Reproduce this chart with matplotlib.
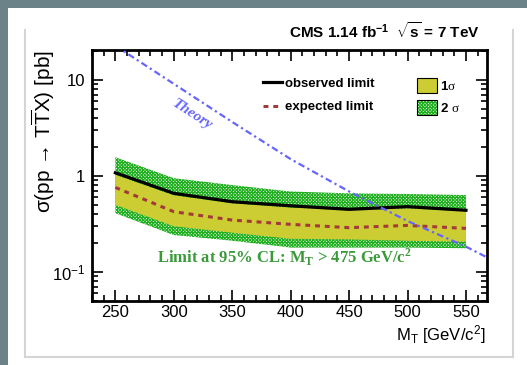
import matplotlib
matplotlib.use("Agg")
import matplotlib.pyplot as plt
from matplotlib.lines import Line2D
from matplotlib.patches import Patch, Rectangle
from matplotlib.ticker import FixedLocator, FuncFormatter, MultipleLocator

# Valeurs
mass = [250, 300, 350, 400, 450, 500, 550]
observed = [1.08, 0.66, 0.54, 0.49, 0.45, 0.48, 0.44]
expected = [0.76, 0.425, 0.348, 0.314, 0.29, 0.306, 0.285]
one_sigma_lo = [0.50, 0.30, 0.257, 0.222, 0.219, 0.212, 0.207]
one_sigma_hi = [1.03, 0.63, 0.52, 0.47, 0.44, 0.46, 0.43]
two_sigma_lo = [0.41, 0.243, 0.212, 0.18, 0.18, 0.18, 0.177]
two_sigma_hi = [1.57, 0.95, 0.805, 0.69, 0.66, 0.65, 0.634]

theory_mass = [250, 300, 350, 400, 450, 500, 550, 600]
theory = [22.7, 9.1, 3.65, 1.5, 0.69, 0.34, 0.184, 0.09]

green = "#22b022"
yellow = "#cccc33"
red = "#a33a3a"
blue = "#6666ff"

plt.rcParams["font.family"] = ["Liberation Sans", "DejaVu Sans"]
plt.rcParams["mathtext.fontset"] = "custom"
plt.rcParams["mathtext.rm"] = "Liberation Sans"
plt.rcParams["mathtext.it"] = "Liberation Sans:italic"
plt.rcParams["mathtext.bf"] = "Liberation Sans:bold"
plt.rcParams["mathtext.sf"] = "Liberation Serif:bold"
plt.rcParams["mathtext.tt"] = "Liberation Serif"
plt.rcParams["hatch.linewidth"] = 0.9

fig = plt.figure(figsize=(5.27, 3.65), dpi=100, facecolor="white")

# bandeau sombre en haut et a gauche + cadre gris clair
W, H = 527.0, 365.0
fig.patches.append(Rectangle((0, 1 - 8 / H), 1, 8 / H, transform=fig.transFigure,
                             facecolor="#6a8288", edgecolor="none", zorder=0))
fig.patches.append(Rectangle((0, 0), 8 / W, 1, transform=fig.transFigure,
                             facecolor="#6a8288", edgecolor="none", zorder=0))
for xs, ys in [([25, 25], [30, 357]), ([25, 513], [357, 357]), ([513, 513], [30, 357])]:
    fig.add_artist(Line2D([x / W for x in xs], [1 - y / H for y in ys],
                          transform=fig.transFigure, color="#d4d4d4", lw=1.5))

ax = fig.add_axes([92 / W, 1 - 301 / H, 395 / W, 251 / H])
ax.set_yscale("log")
ax.set_xlim(230, 568)
ax.set_ylim(0.05, 20.5)

ax.fill_between(mass, two_sigma_lo, two_sigma_hi, facecolor="white", edgecolor=green,
                hatch="xxxxxxxxxx", linewidth=0, zorder=1)
ax.fill_between(mass, one_sigma_lo, one_sigma_hi, facecolor=yellow, linewidth=0, zorder=2)
ax.plot(mass, expected, color=red, lw=2.2, ls=(0, (1.6, 1.6)), zorder=3)
ax.plot(mass, observed, color="black", lw=2.3, zorder=4)
ax.plot(theory_mass, theory, color=blue, lw=1.6, ls=(0, (3, 1.5, 1, 1.5)), zorder=5)

ax.text(0.253, 0.741, "Theory", transform=ax.transAxes, rotation=-33, rotation_mode="anchor",
        ha="center", va="center", color=blue, fontsize=11, fontweight="bold",
        fontstyle="italic", family="Liberation Serif")
ax.text(0.165, 0.151, r"Limit at 95% CL: M$_{\mathsf{T}}$ > 475 GeV/c$^{\mathsf{2}}$",
        transform=ax.transAxes, ha="left", va="baseline", color="#3a9a3a", fontsize=12,
        fontweight="bold", family="Liberation Serif")

# axes et graduations
for s in ax.spines.values():
    s.set_linewidth(2.0)
ax.xaxis.set_major_locator(MultipleLocator(50))
ax.xaxis.set_minor_locator(MultipleLocator(10))
ax.yaxis.set_major_locator(FixedLocator([0.1, 1, 10]))
ax.yaxis.set_minor_locator(FixedLocator([k * 10.0 ** e for e in (-2, -1, 0, 1) for k in range(2, 10)]))
ax.yaxis.set_major_formatter(FuncFormatter(lambda v, p: {0.1: r"10$^{\mathregular{-1}}$", 1: "1", 10: "10"}.get(round(v, 3), "")))
ax.yaxis.set_minor_formatter(FuncFormatter(lambda v, p: ""))
ax.tick_params(which="both", direction="in", top=True, right=True, labelsize=12, width=1.2)
ax.tick_params(which="major", length=8, pad=5)
ax.tick_params(axis="x", which="major", pad=3)
ax.tick_params(which="minor", length=4)

# legendes
h_lines = [Line2D([], [], color="black", lw=2.3), Line2D([], [], color=red, lw=2.2, ls=(0, (1.6, 1.6)))]
leg1 = ax.legend(h_lines, ["observed limit", "expected limit"], loc="upper left",
                 bbox_to_anchor=(0.433, 0.89), frameon=False, borderpad=0, borderaxespad=0,
                 handlelength=1.45, handletextpad=0.25, labelspacing=0.85,
                 prop={"family": "Liberation Sans", "weight": "bold", "size": 9.5})
ax.add_artist(leg1)
h_box = [Patch(facecolor=yellow, edgecolor="black", lw=0.8),
         (Patch(facecolor="white", edgecolor=green, hatch="xxxxxxxxxx", lw=0),
          Patch(facecolor="none", edgecolor="black", lw=0.8))]
ax.legend(h_box, [r"1$\mathtt{σ}$", r"2 $\mathtt{σ}$"], loc="upper left",
          bbox_to_anchor=(0.823, 0.89), frameon=False, borderpad=0, borderaxespad=0,
          handlelength=1.5, handleheight=1.4, handletextpad=0.25, labelspacing=0.55,
          prop={"family": "Liberation Sans", "weight": "bold", "size": 9.5})

# titres
fig.text(480 / W, 1 - 31 / H, r"CMS 1.14 fb$^{\mathbf{-1}}$  $\sqrt{\mathbf{s}}$ = 7 TeV",
         ha="right", va="center", fontsize=11, fontweight="bold")
fig.text(43 / W, 1 - 50 / H, r"σ(pp → T$\overline{\mathrm{T}}$X) [pb]",
         rotation=90, ha="center", va="top", fontsize=15)
fig.text(485 / W, 1 - 340 / H, r"M$_{\mathrm{T}}$ [GeV/c$^{2}$]", ha="right", va="baseline", fontsize=12)

fig.savefig("out.png", dpi=100, facecolor="white")
